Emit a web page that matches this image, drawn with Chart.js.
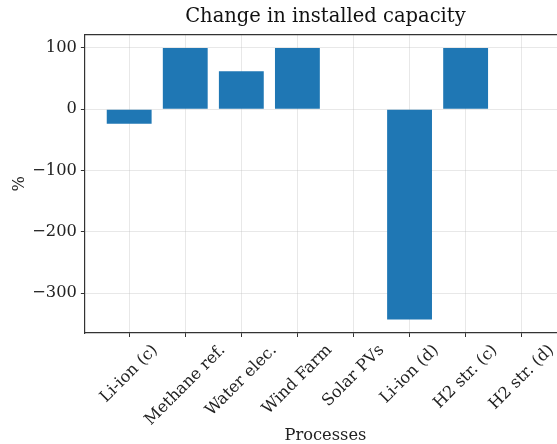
<!DOCTYPE html>
<html>
<head>
<meta charset="utf-8">
<script src="https://cdn.jsdelivr.net/npm/chart.js@4"></script>
<style>
  html, body { margin: 0; padding: 0; background: #fff; overflow: hidden; }
  #wrap { width: 557px; height: 444px; overflow: hidden; }
</style>
</head>
<body>
<div id="wrap"><canvas id="capChart" width="572" height="444"></canvas></div>
<script>
const categories = ['Li-ion (c)', 'Methane ref.', 'Water elec.', 'Wind Farm', 'Solar PVs', 'Li-ion (d)', 'H2 str. (c)', 'H2 str. (d)']
const capacityChange = [-23.5, 100, 62, 100, 0, -343, 100, 0]
const yTickValues = [100, 0, -100, -200, -300]

const serif = 'DejaVu Serif'
const ink = '#222'
const labelSize = 16.25

// matplotlib style 5% margins round the data
let lo = Math.min(...capacityChange), hi = Math.max(...capacityChange)
let pad = 0.05 * (hi - lo)
let xMin = -0.4 - 0.39, xMax = categories.length - 0.6 + 0.39

const points = categories.map((c, i) => ({x: i, y: capacityChange[i]}))

// x labels rotated 45deg, box centred under the tick (matplotlib way)
const rotatedLabels = {
  id: 'rotatedLabels',
  afterDraw(chart) {
    const sc = chart.scales.x
    const ctx = chart.ctx
    ctx.save()
    ctx.font = `${labelSize}px ${serif}`
    ctx.fillStyle = ink
    ctx.textAlign = 'center'
    ctx.textBaseline = 'middle'
    categories.forEach((lab, i) => {
      let w = ctx.measureText(lab).width
      let h = labelSize * 1.16
      let box = (w + h) * Math.SQRT1_2
      let x = sc.getPixelForValue(i)
      let y = sc.top + 4 + 4 + box / 2
      ctx.save()
      ctx.translate(x, y)
      ctx.rotate(-Math.PI / 4)
      ctx.fillText(lab, 0, 0)
      ctx.restore()
    })
    ctx.restore()
  }
}

new Chart(document.getElementById('capChart'), {
  type: 'bar',
  data: {
    datasets: [{
      data: points,
      backgroundColor: '#1f77b4',
      borderWidth: 0,
      barPercentage: 0.8,
      categoryPercentage: 1
    }]
  },
  options: {
    responsive: false,
    animation: false,
    devicePixelRatio: 1,
    layout: {padding: {left: 5, right: 6, top: 5, bottom: 0}},
    plugins: {legend: {display: false}, tooltip: {enabled: false}},
    scales: {
      x: {
        type: 'linear',
        position: 'bottom',
        min: xMin,
        max: xMax,
        offset: false,
        z: 1,
        afterBuildTicks: axis => { axis.ticks = categories.map((c, i) => ({value: i})) },
        afterFit: axis => { axis.height = 111 },
        ticks: {display: false},
        grid: {offset: false, color: 'rgba(190,190,190,0.35)', tickColor: '#333', tickLength: 4, lineWidth: 1},
        border: {color: '#333', width: 1.2},
        title: {display: true, text: 'Processes', color: ink, font: {family: serif, size: labelSize, lineHeight: 1}, padding: {top: 4, bottom: 0}}
      },
      xTop: {
        type: 'linear',
        position: 'top',
        min: xMin,
        max: xMax,
        offset: false,
        ticks: {display: false},
        grid: {display: false, drawTicks: false},
        border: {color: '#333', width: 1.2},
        title: {display: true, text: 'Change in installed capacity', color: '#111', font: {family: serif, size: 19.5}, padding: {top: 0, bottom: 6}}
      },
      y: {
        min: lo - pad,
        max: hi + pad,
        z: 1,
        afterBuildTicks: axis => { axis.ticks = yTickValues.map(v => ({value: v})) },
        ticks: {
          color: ink,
          font: {family: serif, size: labelSize},
          padding: 4,
          callback: v => (v < 0 ? '\u2212' + Math.abs(v) : '' + v)
        },
        grid: {color: 'rgba(190,190,190,0.35)', tickColor: '#333', tickLength: 4, lineWidth: 1},
        border: {color: '#333', width: 1.2},
        title: {display: true, text: '%', color: ink, font: {family: serif, size: labelSize, lineHeight: 1}, padding: {top: 7, bottom: 0}}
      }
    }
  },
  plugins: [rotatedLabels]
})
</script>
</body>
</html>
